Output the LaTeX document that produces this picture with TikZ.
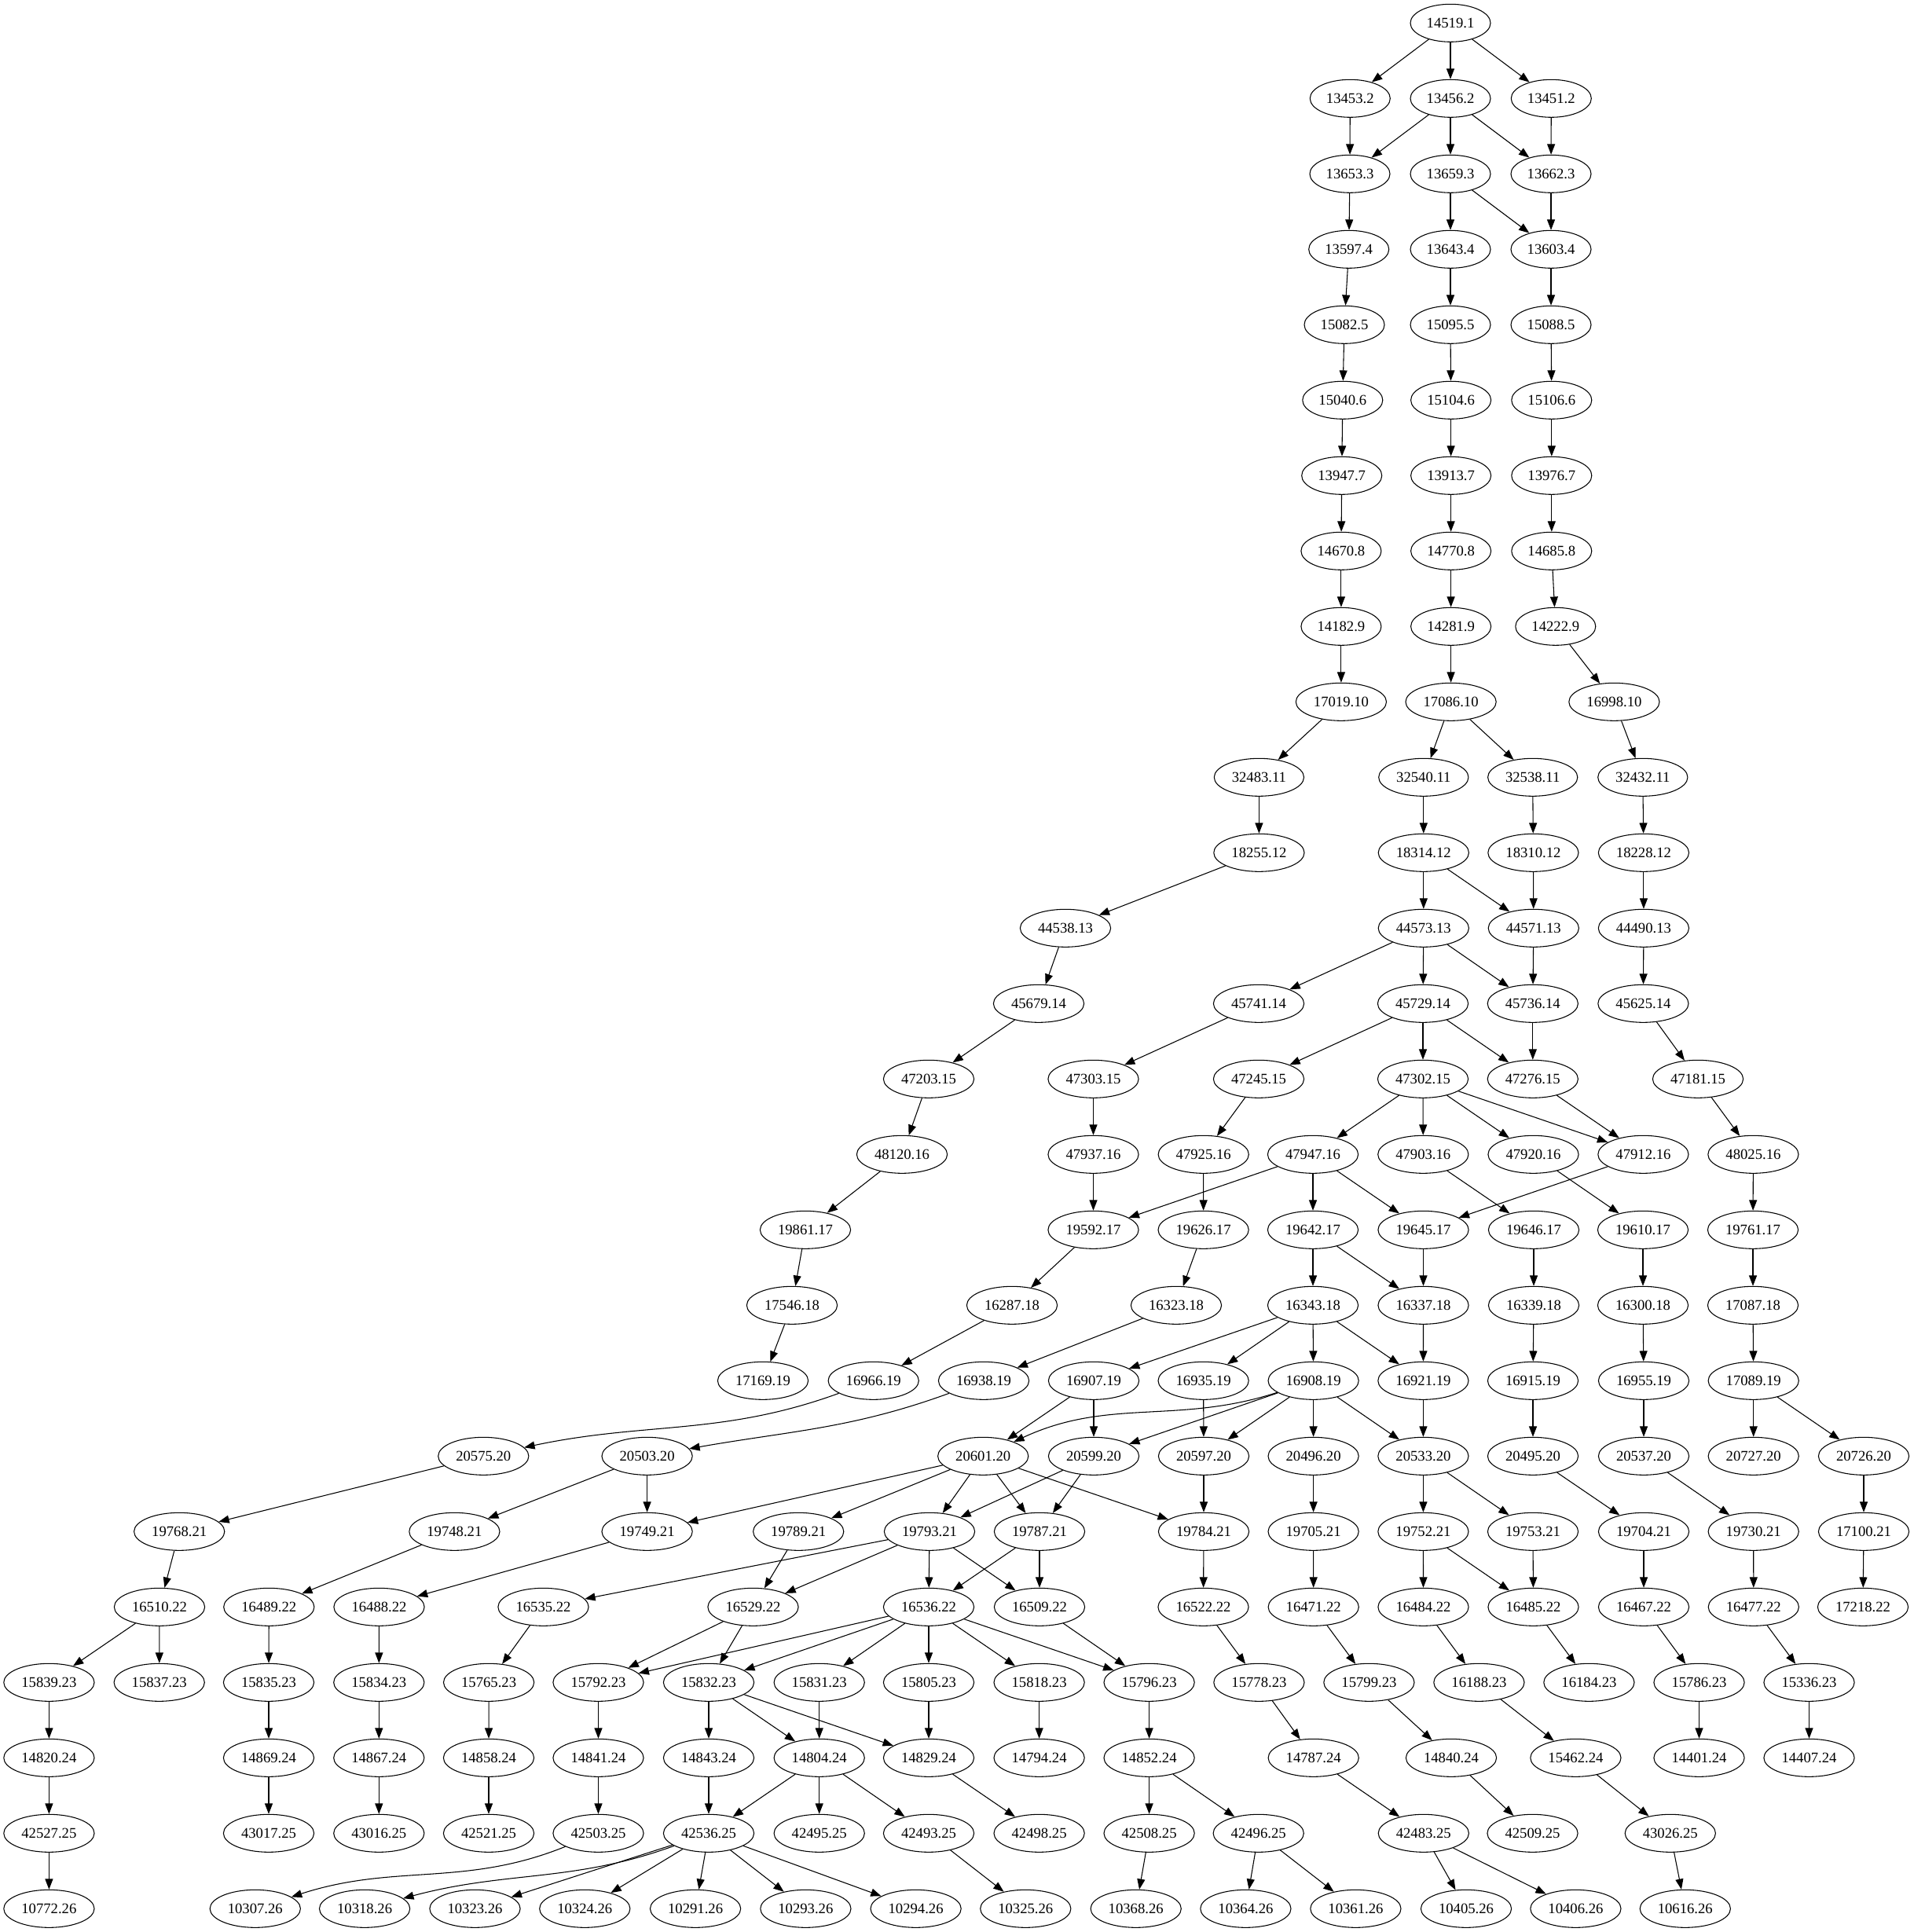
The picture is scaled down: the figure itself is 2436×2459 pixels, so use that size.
\documentclass[tikz,border=0pt]{standalone}
\usepackage{fontspec}
\setmainfont{Liberation Serif}
\usetikzlibrary{shapes.geometric,arrows.meta}
\tikzset{
  gnode/.style={ellipse,draw,line width=0.8pt,minimum height=36pt,inner xsep=4.3pt,inner ysep=1pt,
    font=\fontsize{14}{16}\selectfont},
  arr/.style={line width=0.8pt,-{Triangle[length=10pt,width=7.5pt]}}
}
\newcommand\gn[4]{\node[gnode] (n#1-#2) at (#3,#4) {#1.#2};}
\newcommand\ed[2]{\draw[arr] (n#1) -- (n#2);}
\begin{document}
\begin{tikzpicture}[x=0.75pt,y=-0.75pt]
\useasboundingbox (0,0) rectangle (2436,2459);
% row 1
\gn{14519}{1}{1846}{29.3}
% row 2
\gn{13453}{2}{1718.3}{125.3}
\gn{13456}{2}{1846}{125.3}
\gn{13451}{2}{1974.3}{125.3}
% row 3
\gn{13653}{3}{1718}{221.3}
\gn{13659}{3}{1846}{221.3}
\gn{13662}{3}{1974}{221.3}
% row 4
\gn{13597}{4}{1716.7}{317.3}
\gn{13643}{4}{1846}{317.3}
\gn{13603}{4}{1974}{317.3}
% row 5
\gn{15082}{5}{1711}{413.3}
\gn{15095}{5}{1846}{413.3}
\gn{15088}{5}{1974}{413.3}
% row 6
\gn{15040}{6}{1708.8}{509.3}
\gn{15104}{6}{1846.6}{509.3}
\gn{15106}{6}{1974.8}{509.3}
% row 7
\gn{13947}{7}{1707.7}{605.3}
\gn{13913}{7}{1846.6}{605.3}
\gn{13976}{7}{1974.8}{605.3}
% row 8
\gn{14670}{8}{1706.9}{701.3}
\gn{14770}{8}{1846.6}{701.3}
\gn{14685}{8}{1974.8}{701.3}
% row 9
\gn{14182}{9}{1706.9}{797.3}
\gn{14281}{9}{1846.6}{797.3}
\gn{14222}{9}{1979.8}{797.3}
% row 10
\gn{17019}{10}{1706.9}{893.3}
\gn{17086}{10}{1846.6}{893.3}
\gn{16998}{10}{2054.4}{893.3}
% row 11
\gn{32483}{11}{1602.4}{989.3}
\gn{32540}{11}{1811.8}{989.3}
\gn{32538}{11}{1950.7}{989.3}
\gn{32432}{11}{2090.8}{989.3}
% row 12
\gn{18255}{12}{1602.4}{1085.3}
\gn{18314}{12}{1811.8}{1085.3}
\gn{18310}{12}{1951.4}{1085.3}
\gn{18228}{12}{2091.9}{1085.3}
% row 13
\gn{44538}{13}{1356}{1181.3}
\gn{44573}{13}{1811.8}{1181.3}
\gn{44571}{13}{1951.8}{1181.3}
\gn{44490}{13}{2091.9}{1181.3}
% row 14
\gn{45679}{14}{1322}{1277.3}
\gn{45741}{14}{1602}{1277.3}
\gn{45729}{14}{1811}{1277.3}
\gn{45736}{14}{1950.8}{1277.3}
\gn{45625}{14}{2091.4}{1277.3}
% row 15
\gn{47203}{15}{1182}{1373.3}
\gn{47303}{15}{1391.5}{1373.3}
\gn{47245}{15}{1602}{1373.3}
\gn{47302}{15}{1811}{1373.3}
\gn{47276}{15}{1950.8}{1373.3}
\gn{47181}{15}{2161}{1373.3}
% row 16
\gn{48120}{16}{1148}{1469.3}
\gn{47937}{16}{1391.5}{1469.3}
\gn{47925}{16}{1531.7}{1469.3}
\gn{47947}{16}{1671}{1469.3}
\gn{47903}{16}{1811.3}{1469.3}
\gn{47920}{16}{1951.5}{1469.3}
\gn{47912}{16}{2091.4}{1469.3}
\gn{48025}{16}{2231.4}{1469.3}
% row 17
\gn{19861}{17}{1025}{1565.3}
\gn{19592}{17}{1391.5}{1565.3}
\gn{19626}{17}{1531.6}{1565.3}
\gn{19642}{17}{1671}{1565.3}
\gn{19645}{17}{1811.5}{1565.3}
\gn{19646}{17}{1952}{1565.3}
\gn{19610}{17}{2091}{1565.3}
\gn{19761}{17}{2231}{1565.3}
% row 18
\gn{17546}{18}{1008}{1661.3}
\gn{16287}{18}{1288}{1661.3}
\gn{16323}{18}{1497}{1661.3}
\gn{16343}{18}{1671}{1661.3}
\gn{16337}{18}{1811.5}{1661.3}
\gn{16339}{18}{1952}{1661.3}
\gn{16300}{18}{2091}{1661.3}
\gn{17087}{18}{2231}{1661.3}
% row 19
\gn{17169}{19}{971}{1757.3}
\gn{16966}{19}{1111.7}{1757.3}
\gn{16938}{19}{1252}{1757.3}
\gn{16907}{19}{1392}{1757.3}
\gn{16935}{19}{1531.6}{1757.3}
\gn{16908}{19}{1671.6}{1757.3}
\gn{16921}{19}{1811.4}{1757.3}
\gn{16915}{19}{1951}{1757.3}
\gn{16955}{19}{2092}{1757.3}
\gn{17089}{19}{2231.7}{1757.3}
% row 20
\gn{20575}{20}{615.3}{1853.3}
\gn{20503}{20}{823.6}{1853.3}
\gn{20601}{20}{1251.2}{1853.3}
\gn{20599}{20}{1392}{1853.3}
\gn{20597}{20}{1532}{1853.3}
\gn{20496}{20}{1671.6}{1853.3}
\gn{20533}{20}{1811.4}{1853.3}
\gn{20495}{20}{1951}{1853.3}
\gn{20537}{20}{2092}{1853.3}
\gn{20727}{20}{2231.7}{1853.3}
\gn{20726}{20}{2372}{1853.3}
% row 21
\gn{19768}{21}{228.2}{1949.3}
\gn{19748}{21}{578.4}{1949.3}
\gn{19749}{21}{823.6}{1949.3}
\gn{19789}{21}{1016.2}{1949.3}
\gn{19793}{21}{1183}{1949.3}
\gn{19787}{21}{1323}{1949.3}
\gn{19784}{21}{1532}{1949.3}
\gn{19705}{21}{1671.6}{1949.3}
\gn{19752}{21}{1811.4}{1949.3}
\gn{19753}{21}{1951}{1949.3}
\gn{19704}{21}{2092}{1949.3}
\gn{19730}{21}{2231.7}{1949.3}
\gn{17100}{21}{2372}{1949.3}
% row 22
\gn{16510}{22}{203}{2045.3}
\gn{16489}{22}{342.3}{2045.3}
\gn{16488}{22}{482.5}{2045.3}
\gn{16535}{22}{691.5}{2045.3}
\gn{16529}{22}{958.5}{2045.3}
\gn{16536}{22}{1182}{2045.3}
\gn{16509}{22}{1323}{2045.3}
\gn{16522}{22}{1531.5}{2045.3}
\gn{16471}{22}{1671.7}{2045.3}
\gn{16484}{22}{1811.5}{2045.3}
\gn{16485}{22}{1951.5}{2045.3}
\gn{16467}{22}{2092}{2045.3}
\gn{16477}{22}{2231.8}{2045.3}
\gn{17218}{22}{2371}{2045.3}
% row 23
\gn{15839}{23}{62.4}{2141.3}
\gn{15837}{23}{202.7}{2141.3}
\gn{15835}{23}{342}{2141.3}
\gn{15834}{23}{482.3}{2141.3}
\gn{15765}{23}{622.1}{2141.3}
\gn{15792}{23}{761.5}{2141.3}
\gn{15832}{23}{902}{2141.3}
\gn{15831}{23}{1042.7}{2141.3}
\gn{15805}{23}{1182}{2141.3}
\gn{15818}{23}{1322.6}{2141.3}
\gn{15796}{23}{1462.6}{2141.3}
\gn{15778}{23}{1602.4}{2141.3}
\gn{15799}{23}{1742.4}{2141.3}
\gn{16188}{23}{1882.4}{2141.3}
\gn{16184}{23}{2022.4}{2141.3}
\gn{15786}{23}{2162.5}{2141.3}
\gn{15336}{23}{2302.5}{2141.3}
% row 24
\gn{14820}{24}{62.4}{2237.3}
\gn{14869}{24}{342}{2237.3}
\gn{14867}{24}{482.3}{2237.3}
\gn{14858}{24}{622}{2237.3}
\gn{14841}{24}{761.5}{2237.3}
\gn{14843}{24}{902}{2237.3}
\gn{14804}{24}{1042.7}{2237.3}
\gn{14829}{24}{1182}{2237.3}
\gn{14794}{24}{1322.6}{2237.3}
\gn{14852}{24}{1462.6}{2237.3}
\gn{14787}{24}{1671.7}{2237.3}
\gn{14840}{24}{1847}{2237.3}
\gn{15462}{24}{2005.4}{2237.3}
\gn{14401}{24}{2162.5}{2237.3}
\gn{14407}{24}{2302.5}{2237.3}
% row 25
\gn{42527}{25}{62.4}{2333.3}
\gn{43017}{25}{342}{2333.3}
\gn{43016}{25}{482.3}{2333.3}
\gn{42521}{25}{622}{2333.3}
\gn{42503}{25}{761.5}{2333.3}
\gn{42536}{25}{902}{2333.3}
\gn{42495}{25}{1042.7}{2333.3}
\gn{42493}{25}{1182}{2333.3}
\gn{42498}{25}{1322.6}{2333.3}
\gn{42508}{25}{1462.6}{2333.3}
\gn{42496}{25}{1601.7}{2333.3}
\gn{42483}{25}{1811.8}{2333.3}
\gn{42509}{25}{1950.5}{2333.3}
\gn{43026}{25}{2125.8}{2333.3}
% row 26
\gn{10772}{26}{62.4}{2429.3}
\gn{10307}{26}{324.8}{2429.3}
\gn{10318}{26}{464.1}{2429.3}
\gn{10323}{26}{604.5}{2429.3}
\gn{10324}{26}{744.3}{2429.3}
\gn{10291}{26}{885.1}{2429.3}
\gn{10293}{26}{1025.4}{2429.3}
\gn{10294}{26}{1165.6}{2429.3}
\gn{10325}{26}{1305.3}{2429.3}
\gn{10368}{26}{1445.7}{2429.3}
\gn{10364}{26}{1585.4}{2429.3}
\gn{10361}{26}{1725.4}{2429.3}
\gn{10405}{26}{1866}{2429.3}
\gn{10406}{26}{2005.4}{2429.3}
\gn{10616}{26}{2144.8}{2429.3}
% edges
\ed{14519-1}{13453-2}
\ed{14519-1}{13456-2}
\ed{14519-1}{13451-2}
\ed{13453-2}{13653-3}
\ed{13456-2}{13653-3}
\ed{13456-2}{13659-3}
\ed{13456-2}{13662-3}
\ed{13451-2}{13662-3}
\ed{13653-3}{13597-4}
\ed{13659-3}{13643-4}
\ed{13659-3}{13603-4}
\ed{13662-3}{13603-4}
\ed{13597-4}{15082-5}
\ed{13643-4}{15095-5}
\ed{13603-4}{15088-5}
\ed{15082-5}{15040-6}
\ed{15095-5}{15104-6}
\ed{15088-5}{15106-6}
\ed{15040-6}{13947-7}
\ed{15104-6}{13913-7}
\ed{15106-6}{13976-7}
\ed{13947-7}{14670-8}
\ed{13913-7}{14770-8}
\ed{13976-7}{14685-8}
\ed{14670-8}{14182-9}
\ed{14770-8}{14281-9}
\ed{14685-8}{14222-9}
\ed{14182-9}{17019-10}
\ed{14281-9}{17086-10}
\ed{14222-9}{16998-10}
\ed{17019-10}{32483-11}
\ed{17086-10}{32540-11}
\ed{17086-10}{32538-11}
\ed{16998-10}{32432-11}
\ed{32483-11}{18255-12}
\ed{32540-11}{18314-12}
\ed{32538-11}{18310-12}
\ed{32432-11}{18228-12}
\ed{18255-12}{44538-13}
\ed{18314-12}{44573-13}
\ed{18314-12}{44571-13}
\ed{18310-12}{44571-13}
\ed{18228-12}{44490-13}
\ed{44538-13}{45679-14}
\ed{44573-13}{45741-14}
\ed{44573-13}{45729-14}
\ed{44573-13}{45736-14}
\ed{44571-13}{45736-14}
\ed{44490-13}{45625-14}
\ed{45679-14}{47203-15}
\ed{45741-14}{47303-15}
\ed{45729-14}{47245-15}
\ed{45729-14}{47302-15}
\ed{45729-14}{47276-15}
\ed{45736-14}{47276-15}
\ed{45625-14}{47181-15}
\ed{47203-15}{48120-16}
\ed{47303-15}{47937-16}
\ed{47245-15}{47925-16}
\ed{47302-15}{47947-16}
\ed{47302-15}{47903-16}
\ed{47302-15}{47920-16}
\ed{47302-15}{47912-16}
\ed{47276-15}{47912-16}
\ed{47181-15}{48025-16}
\ed{48120-16}{19861-17}
\ed{47937-16}{19592-17}
\ed{47947-16}{19592-17}
\ed{47925-16}{19626-17}
\ed{47947-16}{19642-17}
\ed{47947-16}{19645-17}
\ed{47912-16}{19645-17}
\ed{47903-16}{19646-17}
\ed{47920-16}{19610-17}
\ed{48025-16}{19761-17}
\ed{19861-17}{17546-18}
\ed{19592-17}{16287-18}
\ed{19626-17}{16323-18}
\ed{19642-17}{16343-18}
\ed{19642-17}{16337-18}
\ed{19645-17}{16337-18}
\ed{19646-17}{16339-18}
\ed{19610-17}{16300-18}
\ed{19761-17}{17087-18}
\ed{17546-18}{17169-19}
\ed{16287-18}{16966-19}
\ed{16323-18}{16938-19}
\ed{16343-18}{16907-19}
\ed{16343-18}{16935-19}
\ed{16343-18}{16908-19}
\ed{16343-18}{16921-19}
\ed{16337-18}{16921-19}
\ed{16339-18}{16915-19}
\ed{16300-18}{16955-19}
\ed{17087-18}{17089-19}
\draw[arr] (n16966-19) to[out=200,in=12] (n20575-20);
\draw[arr] (n16938-19) to[out=200,in=10] (n20503-20);
\ed{16907-19}{20601-20}
\ed{16907-19}{20599-20}
\ed{16935-19}{20597-20}
\draw[arr] (n16908-19) to[out=198,in=25] (n20601-20);
\ed{16908-19}{20599-20}
\ed{16908-19}{20597-20}
\ed{16908-19}{20496-20}
\ed{16908-19}{20533-20}
\ed{16921-19}{20533-20}
\ed{16915-19}{20495-20}
\ed{16955-19}{20537-20}
\ed{17089-19}{20727-20}
\ed{17089-19}{20726-20}
\ed{20575-20}{19768-21}
\ed{20503-20}{19748-21}
\ed{20503-20}{19749-21}
\ed{20601-20}{19749-21}
\ed{20601-20}{19789-21}
\ed{20601-20}{19793-21}
\ed{20601-20}{19787-21}
\ed{20601-20}{19784-21}
\ed{20599-20}{19793-21}
\ed{20599-20}{19787-21}
\ed{20597-20}{19784-21}
\ed{20496-20}{19705-21}
\ed{20533-20}{19752-21}
\ed{20533-20}{19753-21}
\ed{20495-20}{19704-21}
\ed{20537-20}{19730-21}
\ed{20726-20}{17100-21}
\ed{19768-21}{16510-22}
\ed{19748-21}{16489-22}
\ed{19749-21}{16488-22}
\ed{19789-21}{16529-22}
\ed{19793-21}{16535-22}
\ed{19793-21}{16529-22}
\ed{19793-21}{16536-22}
\ed{19793-21}{16509-22}
\ed{19787-21}{16536-22}
\ed{19787-21}{16509-22}
\ed{19784-21}{16522-22}
\ed{19705-21}{16471-22}
\ed{19752-21}{16484-22}
\ed{19752-21}{16485-22}
\ed{19753-21}{16485-22}
\ed{19704-21}{16467-22}
\ed{19730-21}{16477-22}
\ed{17100-21}{17218-22}
\ed{16510-22}{15839-23}
\ed{16510-22}{15837-23}
\ed{16489-22}{15835-23}
\ed{16488-22}{15834-23}
\ed{16535-22}{15765-23}
\ed{16529-22}{15792-23}
\ed{16529-22}{15832-23}
\ed{16536-22}{15792-23}
\ed{16536-22}{15832-23}
\ed{16536-22}{15831-23}
\ed{16536-22}{15805-23}
\ed{16536-22}{15818-23}
\ed{16536-22}{15796-23}
\ed{16509-22}{15796-23}
\ed{16522-22}{15778-23}
\ed{16471-22}{15799-23}
\ed{16484-22}{16188-23}
\ed{16485-22}{16184-23}
\ed{16467-22}{15786-23}
\ed{16477-22}{15336-23}
\ed{15839-23}{14820-24}
\ed{15835-23}{14869-24}
\ed{15834-23}{14867-24}
\ed{15765-23}{14858-24}
\ed{15792-23}{14841-24}
\ed{15832-23}{14843-24}
\ed{15832-23}{14804-24}
\ed{15832-23}{14829-24}
\ed{15831-23}{14804-24}
\ed{15805-23}{14829-24}
\ed{15818-23}{14794-24}
\ed{15796-23}{14852-24}
\ed{15778-23}{14787-24}
\ed{15799-23}{14840-24}
\ed{16188-23}{15462-24}
\ed{15786-23}{14401-24}
\ed{15336-23}{14407-24}
\ed{14820-24}{42527-25}
\ed{14869-24}{43017-25}
\ed{14867-24}{43016-25}
\ed{14858-24}{42521-25}
\ed{14841-24}{42503-25}
\ed{14843-24}{42536-25}
\ed{14804-24}{42536-25}
\ed{14804-24}{42495-25}
\ed{14804-24}{42493-25}
\ed{14829-24}{42498-25}
\ed{14852-24}{42508-25}
\ed{14852-24}{42496-25}
\ed{14787-24}{42483-25}
\ed{14840-24}{42509-25}
\ed{15462-24}{43026-25}
\ed{42527-25}{10772-26}
\draw[arr] (n42503-25) to[out=202,in=18] (n10307-26);
\draw[arr] (n42536-25) to[out=200,in=15] (n10318-26);
\ed{42536-25}{10323-26}
\ed{42536-25}{10324-26}
\ed{42536-25}{10291-26}
\ed{42536-25}{10293-26}
\ed{42536-25}{10294-26}
\ed{42493-25}{10325-26}
\ed{42508-25}{10368-26}
\ed{42496-25}{10364-26}
\ed{42496-25}{10361-26}
\ed{42483-25}{10405-26}
\ed{42483-25}{10406-26}
\ed{43026-25}{10616-26}
\end{tikzpicture}
\end{document}
